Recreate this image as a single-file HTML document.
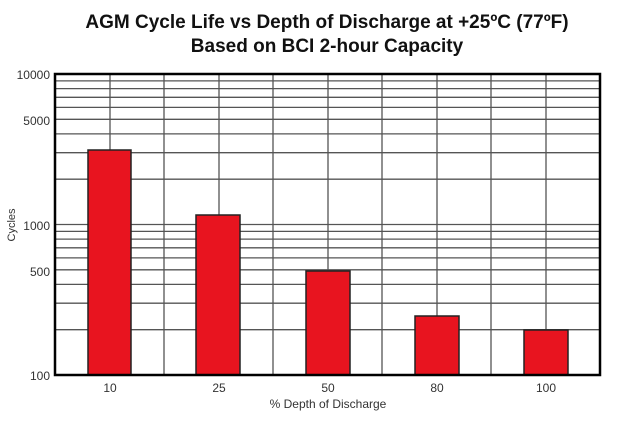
<!DOCTYPE html>
<html><head><style>
body{margin:0;background:#fff;width:620px;height:427px;overflow:hidden}
</style></head><body>
<svg width="620" height="427" xmlns="http://www.w3.org/2000/svg" font-family="Liberation Sans, Arial, sans-serif">
<text x="327" y="28" text-anchor="middle" font-size="19" font-weight="bold" fill="#111" transform="scale(1,1)">AGM Cycle Life vs Depth of Discharge at +25ºC (77ºF)</text>
<text x="327" y="52" text-anchor="middle" font-size="19" font-weight="bold" fill="#111">Based on BCI 2-hour Capacity</text>
<g stroke="#555" stroke-width="1.3">
<line x1="55" x2="600" y1="80.9" y2="80.9"/><line x1="55" x2="600" y1="88.6" y2="88.6"/>
<line x1="55" x2="600" y1="97.3" y2="97.3"/><line x1="55" x2="600" y1="107.4" y2="107.4"/>
<line x1="55" x2="600" y1="119.3" y2="119.3"/><line x1="55" x2="600" y1="133.9" y2="133.9"/>
<line x1="55" x2="600" y1="152.7" y2="152.7"/><line x1="55" x2="600" y1="179.2" y2="179.2"/>
<line x1="55" x2="600" y1="224.5" y2="224.5"/><line x1="55" x2="600" y1="231.4" y2="231.4"/>
<line x1="55" x2="600" y1="239.1" y2="239.1"/><line x1="55" x2="600" y1="247.8" y2="247.8"/>
<line x1="55" x2="600" y1="257.9" y2="257.9"/><line x1="55" x2="600" y1="269.8" y2="269.8"/>
<line x1="55" x2="600" y1="284.4" y2="284.4"/><line x1="55" x2="600" y1="303.2" y2="303.2"/>
<line x1="55" x2="600" y1="329.7" y2="329.7"/>
<line x1="110" x2="110" y1="74" y2="375"/><line x1="164" x2="164" y1="74" y2="375"/>
<line x1="219" x2="219" y1="74" y2="375"/><line x1="273" x2="273" y1="74" y2="375"/>
<line x1="328" x2="328" y1="74" y2="375"/><line x1="382" x2="382" y1="74" y2="375"/>
<line x1="437" x2="437" y1="74" y2="375"/><line x1="491" x2="491" y1="74" y2="375"/>
<line x1="546" x2="546" y1="74" y2="375"/>
</g>
<g fill="#e8141f" stroke="#222" stroke-width="1.5">
<rect x="88" y="150" width="43" height="225"/>
<rect x="196" y="215" width="44" height="160"/>
<rect x="306" y="271" width="44" height="104"/>
<rect x="415" y="316" width="44" height="59"/>
<rect x="524" y="330" width="44" height="45"/>
</g>
<rect x="55" y="74" width="545" height="301" fill="none" stroke="#000" stroke-width="2.5"/>
<g font-size="12" fill="#333" text-anchor="end">
<text x="50" y="79">10000</text><text x="50" y="125">5000</text>
<text x="50" y="230">1000</text><text x="50" y="276">500</text><text x="50" y="380">100</text>
</g>
<text transform="translate(15,225) rotate(-90)" text-anchor="middle" font-size="11" fill="#333">Cycles</text>
<g font-size="12" fill="#333" text-anchor="middle">
<text x="110" y="392">10</text><text x="219" y="392">25</text><text x="328" y="392">50</text>
<text x="437" y="392">80</text><text x="546" y="392">100</text>
</g>
<text x="328" y="408" text-anchor="middle" font-size="12" fill="#333">% Depth of Discharge</text>
</svg>
</body></html>
